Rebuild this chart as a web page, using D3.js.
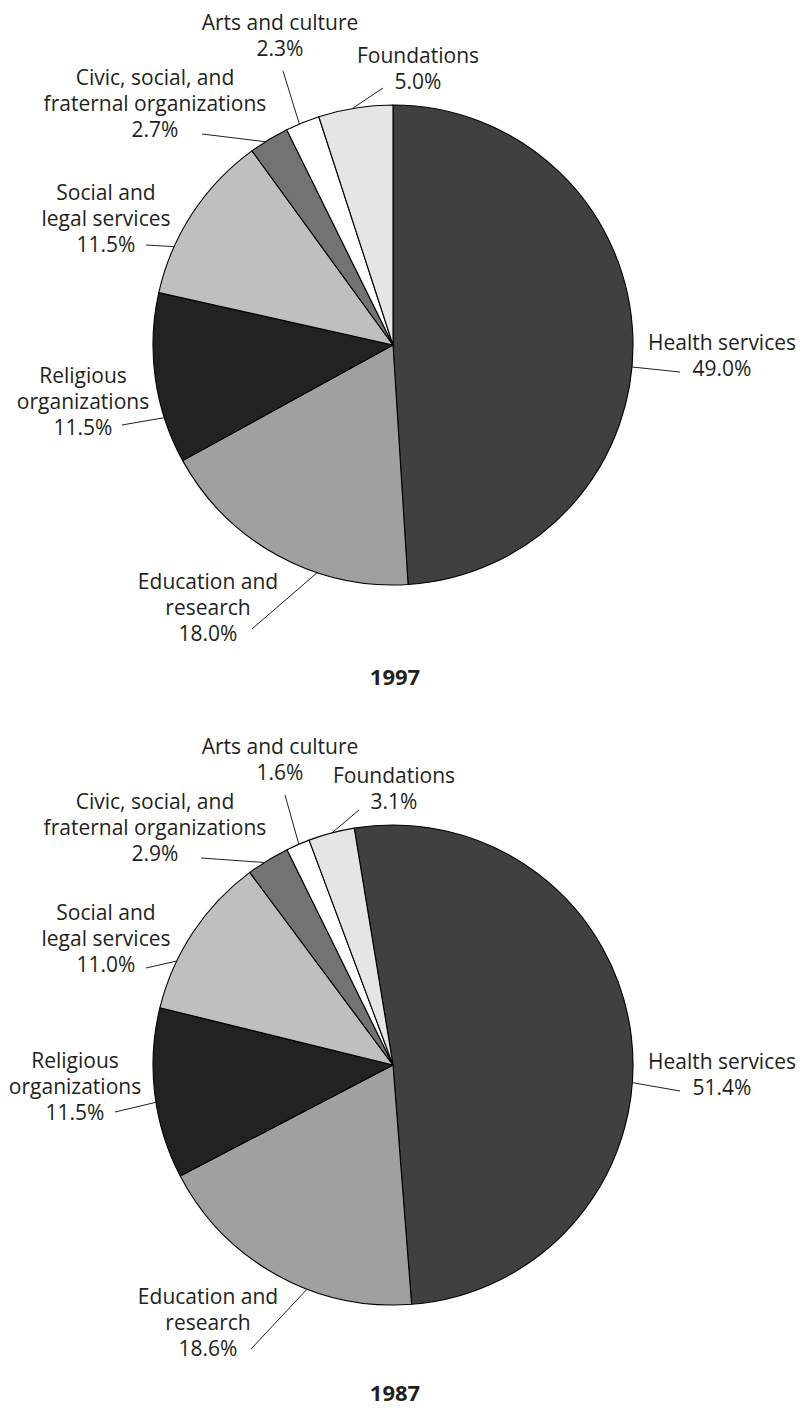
<!DOCTYPE html>
<html>
<head>
<meta charset="utf-8">
<script src="https://cdn.jsdelivr.net/npm/d3@7"></script>
<style>
  html, body { margin: 0; padding: 0; background: #fff; }
  svg { display: block; }
  text { font-family: "Open Sans", "Noto Sans", sans-serif; fill: #231f20; }
</style>
</head>
<body>
<svg id="chart" width="804" height="1413"></svg>
<script>
// Categories, in the order the slices run clockwise from the top
const categories = [
  "Health services",
  "Education and research",
  "Religious organizations",
  "Social and legal services",
  "Civic, social, and fraternal organizations",
  "Arts and culture",
  "Foundations"
];
// How each category name is broken over lines
const labelLines = [
  ["Health services"],
  ["Education and", "research"],
  ["Religious", "organizations"],
  ["Social and", "legal services"],
  ["Civic, social, and", "fraternal organizations"],
  ["Arts and culture"],
  ["Foundations"]
];
// Shares of total (percent)
const share1997 = [49.0, 18.0, 11.5, 11.5, 2.7, 2.3, 5.0];
const share1987 = [51.4, 18.6, 11.5, 11.0, 2.9, 1.6, 3.1];
const years = ["1997", "1987"];

const fills = ["#404040", "#a0a0a0", "#222222", "#bfbfbf", "#737373", "#ffffff", "#e5e5e5"];

// Label placement per category: [fraction along slice where the leader meets the rim,
//  leader outer end dx, dy, text centre dx, first baseline dy] relative to the pie centre
const place1997 = [
  [0.54,  287,   27,  329,    5],
  [0.34, -141,  284, -185,  244],
  [0.27, -271,   80, -310,   38],
  [0.28, -247, -100, -287, -145],
  [0.40, -191, -211, -238, -260],
  [0.40, -110, -274, -113, -315],
  [0.46,  -10, -257,   25, -282]
];
const place1987 = [
  [0.56,  287,   26,  329,    4],
  [0.38, -142,  284, -185,  239],
  [0.45, -278,   47, -318,    3],
  [0.30, -247,  -97, -287, -145],
  [0.40, -192, -207, -238, -256],
  [0.54, -108, -270, -113, -311],
  [0.51,  -34, -255,    1, -282]
];

const panels = [
  { year: years[0], values: share1997, place: place1997, cx: 393, cy: 345,  start: 0,    titleY: 340 },
  { year: years[1], values: share1987, place: place1987, cx: 393, cy: 1065, start: -9.3, titleY: 336 }
];

const radius = 240;
const lineH = 26;
const fmt = d3.format(".1f");
const svg = d3.select("#chart");
const arc = d3.arc().innerRadius(0).outerRadius(radius);

panels.forEach(p => {
  const a0 = p.start * Math.PI / 180;
  const pie = d3.pie().sort(null).value(d => d)
    .startAngle(a0).endAngle(a0 + 2 * Math.PI);
  const arcs = pie(p.values);

  const g = svg.append("g").attr("transform", `translate(${p.cx},${p.cy})`);

  g.selectAll("path.slice")
    .data(arcs)
    .join("path")
    .attr("class", "slice")
    .attr("d", arc)
    .attr("fill", (d, i) => fills[i])
    .attr("stroke", "#000")
    .attr("stroke-width", 1.1)
    .attr("stroke-linejoin", "round");

  // leader lines from the rim to each label
  const rimPoint = (d, i) => {
    const t = d.startAngle + p.place[i][0] * (d.endAngle - d.startAngle);
    return [radius * Math.sin(t), -radius * Math.cos(t)];
  };
  g.selectAll("line.leader")
    .data(arcs)
    .join("line")
    .attr("class", "leader")
    .attr("x1", (d, i) => rimPoint(d, i)[0])
    .attr("y1", (d, i) => rimPoint(d, i)[1])
    .attr("x2", (d, i) => p.place[i][1])
    .attr("y2", (d, i) => p.place[i][2])
    .attr("stroke", "#231f20")
    .attr("stroke-width", 1);

  // category name plus its share
  g.selectAll("text.label")
    .data(arcs)
    .join("text")
    .attr("class", "label")
    .attr("text-anchor", "middle")
    .attr("font-size", 21)
    .each(function (d, i) {
      const lines = labelLines[i].concat([fmt(p.values[i]) + "%"]);
      const [, , , tx, ty] = p.place[i];
      d3.select(this).selectAll("tspan")
        .data(lines)
        .join("tspan")
        .attr("x", tx)
        .attr("y", (s, k) => ty + k * lineH)
        .text(s => s);
    });

  g.append("text")
    .attr("x", 2)
    .attr("y", p.titleY)
    .attr("text-anchor", "middle")
    .attr("font-size", 22)
    .attr("font-weight", 700)
    .text(p.year);
});
</script>
</body>
</html>
